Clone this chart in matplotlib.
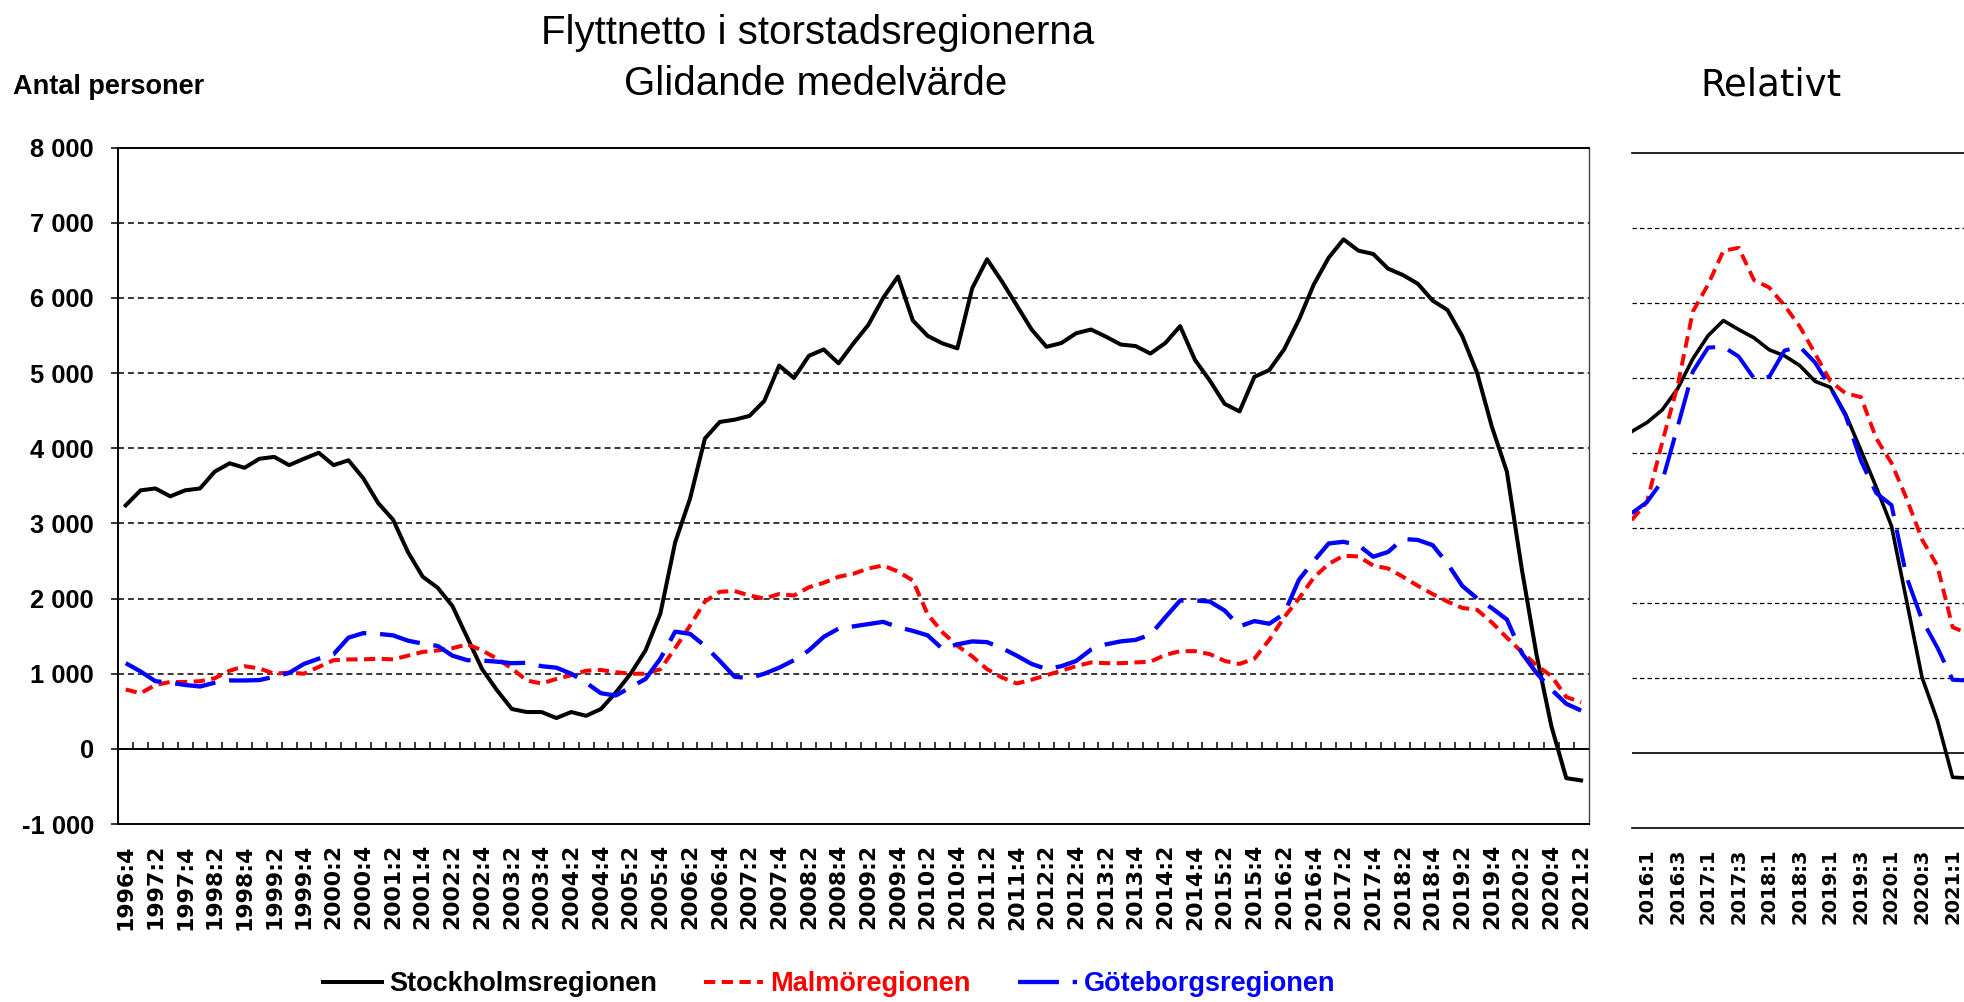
import matplotlib
matplotlib.use('Agg')
import matplotlib.pyplot as plt
import numpy as np
from matplotlib.lines import Line2D
from matplotlib.font_manager import FontProperties

plt.rcParams['font.family'] = ['Liberation Sans', 'DejaVu Sans']

# ---------------- data ----------------
all_q = [f"{y}:{q}" for y in range(1995, 2022) for q in range(1, 5)]
quarters = all_q[all_q.index("1996:4"):all_q.index("2021:2") + 1]
rel_quarters = all_q[all_q.index("2015:4"):all_q.index("2021:2") + 1]

stockholm = [3240, 3440, 3465, 3360, 3440, 3465, 3690, 3800, 3740, 3860,
             3885, 3775, 3860, 3940, 3775, 3840, 3600, 3270, 3050, 2620,
             2290, 2145, 1900, 1480, 1060, 780, 530, 490, 490, 410,
             490, 440, 530, 750, 1000, 1310, 1800, 2750, 3330, 4130,
             4350, 4380, 4430, 4630, 5100, 4935, 5230, 5315, 5130, 5395,
             5640, 6000, 6285, 5700, 5495, 5395, 5330, 6130, 6515, 6220,
             5900, 5580, 5350, 5400, 5530, 5580, 5485, 5380, 5360, 5260,
             5400, 5625, 5175, 4900, 4590, 4490, 4950, 5040, 5315, 5710,
             6180, 6535, 6780, 6630, 6585, 6390, 6305, 6190, 5965, 5840,
             5490, 5000, 4280, 3690, 2400, 1250, 300, -390, -420]

malmo = [790, 740, 850, 890, 890, 900, 940, 1040, 1100, 1070,
         1000, 1015, 1000, 1090, 1180, 1190, 1190, 1200, 1190, 1240,
         1290, 1310, 1340, 1390, 1310, 1200, 1070, 910, 870, 930,
         980, 1040, 1050, 1020, 1000, 1000, 1060, 1340, 1640, 1960,
         2090, 2100, 2040, 2000, 2060, 2040, 2150, 2210, 2290, 2330,
         2400, 2440, 2360, 2240, 1790, 1550, 1373, 1230, 1060, 950,
         870, 920, 980, 1040, 1100, 1150, 1140, 1140, 1150, 1160,
         1250, 1300, 1300, 1260, 1170, 1130, 1200, 1450, 1750, 2000,
         2280, 2460, 2570, 2560, 2440, 2400, 2290, 2170, 2060, 1960,
         1875, 1850, 1680, 1480, 1290, 1110, 970, 690, 620]

goteborg = [1140, 1030, 900, 880, 850, 830, 880, 910, 910, 915,
            960, 1010, 1130, 1200, 1260, 1480, 1540, 1530, 1510, 1440,
            1400, 1370, 1240, 1180, 1175, 1160, 1140, 1145, 1100, 1080,
            1000, 880, 740, 710, 820, 930, 1200, 1560, 1530, 1370,
            1170, 960, 940, 1000, 1080, 1180, 1310, 1490, 1600, 1630,
            1660, 1690, 1620, 1570, 1510, 1330, 1390, 1430, 1420, 1340,
            1240, 1130, 1062, 1100, 1170, 1320, 1390, 1430, 1450, 1520,
            1750, 1973, 1975, 1960, 1840, 1630, 1700, 1665, 1796, 2250,
            2500, 2733, 2755, 2711, 2556, 2620, 2793, 2780, 2711, 2466,
            2168, 2002, 1871, 1722, 1276, 1008, 790, 600, 510]

rel_sthlm = [4.29, 4.41, 4.58, 4.86, 5.26, 5.57, 5.77, 5.65, 5.54, 5.38, 5.30, 5.17,
             4.96, 4.88, 4.52, 4.04, 3.55, 3.03, 2.02, 1.01, 0.44, -0.32, -0.33]
rel_malmo = [3.11, 3.35, 4.15, 4.90, 5.89, 6.25, 6.70, 6.74, 6.31, 6.21, 5.97, 5.69,
             5.33, 4.96, 4.80, 4.75, 4.20, 3.87, 3.39, 2.85, 2.50, 1.68, 1.60]
rel_gbg = [3.20, 3.35, 3.63, 4.35, 5.09, 5.41, 5.42, 5.29, 5.00, 5.02, 5.37, 5.42,
           5.21, 4.88, 4.50, 3.90, 3.47, 3.31, 2.34, 1.78, 1.41, 0.98, 0.97]

series_names = ["Stockholmsregionen", "Malmöregionen", "Göteborgsregionen"]
series_colors = ["black", (1, 0, 0), (0, 0, 1)]

y_ticks = list(range(-1000, 8001, 1000))
grid_levels = list(range(1000, 8000, 1000))
rel_grid = list(range(1, 8))

# ---------------- styles ----------------
styles = [dict(lw=2.9, linestyle='-'),
          dict(lw=2.9, linestyle=(0, (2.8, 1.6))),
          dict(lw=3.1, linestyle=(0, (9.5, 3.2)))]
xlabel_font = FontProperties(family='DejaVu Sans', weight='bold', size=15.8)
rel_xlabel_font = FontProperties(family='DejaVu Sans', weight='bold', size=14)

fig = plt.figure(figsize=(19.64, 10.02), dpi=100)

# ---------------- main panel ----------------
ax = fig.add_axes([0.06023, 0.17764, 0.7486, 0.6750])
x = np.arange(len(quarters))
for v in grid_levels:
    ax.axhline(v, color='black', lw=1.1, linestyle=(0, (3.9, 2.6)), zorder=1)
ax.axhline(0, color='black', lw=1.4, zorder=2)
ax.vlines(x[:-1] + 0.5, 0, 90, color='black', lw=1.1, zorder=2)

for vals, col, st in zip([stockholm, malmo, goteborg], series_colors, styles):
    ax.plot(x, vals, color=col, zorder=3, **st)

ax.set_xlim(-0.5, len(quarters) - 0.5)
ax.set_ylim(-1000, 8000)
ax.set_yticks(y_ticks)
ax.set_yticklabels([f"{v:,}".replace(",", " ") for v in y_ticks],
                   fontweight='bold', fontsize=18.4)
ax.tick_params(axis='y', direction='out', length=4.8, width=1.1, pad=12.7)
ax.set_xticks(x[::2])
ax.set_xticklabels(quarters[::2], rotation=90, fontproperties=xlabel_font)
ax.tick_params(axis='x', length=0, pad=14.4)
for s in ['left', 'top', 'bottom']:
    ax.spines[s].set_linewidth(1.4)
    ax.spines[s].set_color('black')
ax.spines['right'].set_linewidth(1.0)
ax.spines['right'].set_color('#444444')

# ---------------- right panel (Relativt) ----------------
ax2 = fig.add_axes([0.83081, 0.17335, 0.17118, 0.67365])
q = np.arange(len(rel_quarters))
for v in rel_grid:
    ax2.axhline(v, color='black', lw=0.9, linestyle=(0, (3.5, 2.5)), zorder=1)
ax2.axhline(0, color='black', lw=1.2, zorder=2)
rel_styles = [dict(lw=2.6, linestyle='-'),
              dict(lw=2.8, linestyle=(0, (3.0, 1.7))),
              dict(lw=2.9, linestyle=(0, (9.5, 3.4)))]
for vals, col, st in zip([rel_sthlm, rel_malmo, rel_gbg], series_colors, rel_styles):
    ax2.plot(q, vals, color=col, zorder=3, **st)
ax2.set_xlim(0, len(rel_quarters) - 1)
ax2.set_ylim(-1, 8)
ax2.set_yticks([])
ax2.set_xticks(q[1::2])
ax2.set_xticklabels(rel_quarters[1::2], rotation=90, fontproperties=rel_xlabel_font)
ax2.tick_params(axis='x', length=0, pad=14.4)
ax2.spines['left'].set_visible(False)
ax2.spines['right'].set_visible(False)
ax2.spines['top'].set_linewidth(1.2)
ax2.spines['bottom'].set_linewidth(1.2)

# ---------------- texts ----------------
fig.text(817.5 / 1964, 1 - 44.5 / 1002, "Flyttnetto i storstadsregionerna",
         ha='center', va='baseline', fontsize=29)
fig.text(816 / 1964, 1 - 95 / 1002, "Glidande medelvärde",
         ha='center', va='baseline', fontsize=29)
fig.text(1771 / 1964, 1 - 95 / 1002, "Relativt", ha='center', va='baseline',
         fontsize=26.6, family=['DejaVu Sans'])
fig.text(13.3 / 1964, 1 - 94 / 1002, "Antal personer", ha='left', va='baseline',
         fontsize=19.5, fontweight='bold')

# ---------------- legend ----------------
handles = [Line2D([], [], color=c, **st) for c, st in zip(series_colors, styles)]
leg = fig.legend(handles, series_names, loc='center left',
                 bbox_to_anchor=(323 / 1964, 18 / 1002), ncol=3, frameon=False,
                 prop=FontProperties(family='Liberation Sans', weight='bold', size=19.5),
                 handlelength=2.18, handletextpad=0.26, columnspacing=1.75,
                 borderpad=0, borderaxespad=0)
for t, c in zip(leg.get_texts(), series_colors):
    t.set_color(c)

fig.savefig('out.png', dpi=100)
